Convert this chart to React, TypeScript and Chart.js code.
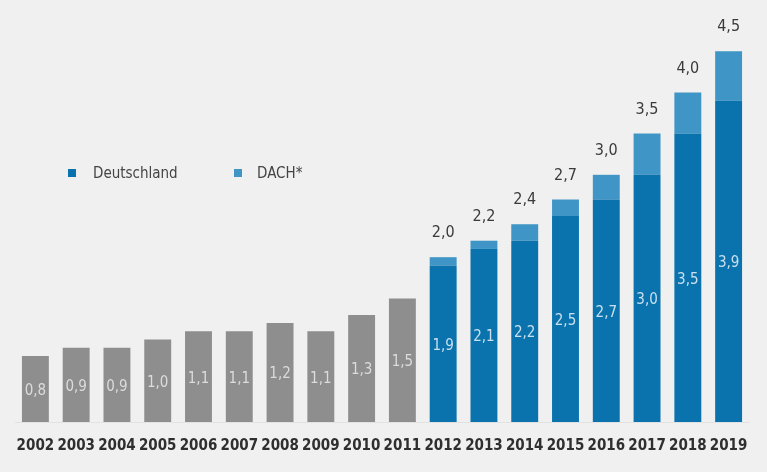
import React, { useEffect, useRef } from "react";
import { Chart, registerables } from "chart.js";

Chart.register(...registerables);

const years = ["2002","2003","2004","2005","2006","2007","2008","2009","2010","2011","2012","2013","2014","2015","2016","2017","2018","2019"];
const earlyValues = [0.8, 0.9, 0.9, 1.0, 1.1, 1.1, 1.2, 1.1, 1.3, 1.5];
const deutschland = [1.9, 2.1, 2.2, 2.5, 2.7, 3.0, 3.5, 3.9];
const dachTotal = [2.0, 2.2, 2.4, 2.7, 3.0, 3.5, 4.0, 4.5];
const legendLabels = ["Deutschland", "DACH*"];

const FONT = "'DejaVu Sans Condensed', 'Roboto', sans-serif";
const GRAY = "#8e8e8e";
const DARK = "#0a72ad";
const LIGHT = "#3e95c6";
const BG = "#f0f0f0";

const fmt = (v: number) => v.toFixed(1).replace(".", ",");

export default function App() {
  const ref = useRef<HTMLCanvasElement | null>(null);

  useEffect(() => {
    document.body.style.margin = "0";
    const nEarly = earlyValues.length;
    const pad = (arr: (number | null)[], before: number) => [...Array(before).fill(null), ...arr];
    const grayData = [...earlyValues, ...Array(deutschland.length).fill(null)];
    const deData = pad(deutschland, nEarly);
    const dachData = pad(dachTotal.map((t, i) => +(t - deutschland[i]).toFixed(2)), nEarly);
    const totals = pad(dachTotal, nEarly);

    const labelPlugin = {
      id: "valueLabels",
      afterDatasetsDraw(chart: any) {
        const ctx = chart.ctx;
        ctx.save();
        ctx.textAlign = "center";
        ctx.textBaseline = "middle";
        ctx.font = `15px ${FONT}`;
        [0, 1].forEach((di) => {
          const meta = chart.getDatasetMeta(di);
          const data = chart.data.datasets[di].data;
          meta.data.forEach((bar: any, i: number) => {
            const v = data[i];
            if (v == null) return;
            ctx.fillStyle = di === 0 ? "#dcdcdc" : "#c8e0ef";
            ctx.fillText(fmt(v), bar.x, (bar.y + bar.base) / 2 + 2);
          });
        });
        const meta2 = chart.getDatasetMeta(2);
        ctx.fillStyle = "#3a3a3a";
        ctx.font = `16px ${FONT}`;
        meta2.data.forEach((bar: any, i: number) => {
          const t = totals[i];
          if (t == null) return;
          ctx.fillText(fmt(t), bar.x, bar.y - 24);
        });
        ctx.restore();
      },
    };

    const chart = new Chart(ref.current!, {
      type: "bar",
      data: {
        labels: years,
        datasets: [
          { label: "early", data: grayData, backgroundColor: GRAY, stack: "s" },
          { label: legendLabels[0], data: deData, backgroundColor: DARK, stack: "s" },
          { label: legendLabels[1], data: dachData, backgroundColor: LIGHT, stack: "s" },
        ],
      },
      options: {
        animation: false,
        responsive: false,
        maintainAspectRatio: false,
        layout: { padding: { left: 15, right: 18, top: 10, bottom: 2 } },
        datasets: { bar: { barPercentage: 0.66, categoryPercentage: 1.0 } },
        plugins: { legend: { display: false }, tooltip: { enabled: false } },
        scales: {
          x: {
            stacked: true,
            grid: { display: false, drawTicks: false },
            border: { display: true, color: "#e2e2e2" },
            ticks: {
              color: "#2f2f2f",
              font: { family: FONT, size: 15, weight: "bold" },
              padding: 15,
              maxRotation: 0,
              autoSkip: false,
            },
          },
          y: {
            stacked: true,
            display: false,
            min: 0,
            max: 5.0,
          },
        },
      },
      plugins: [labelPlugin],
    });
    return () => chart.destroy();
  }, []);

  const sq = (color: string, left: number) => (
    <div style={{ position: "absolute", left, top: 169, width: 8, height: 8, background: color }} />
  );
  const txt = (s: string, left: number) => (
    <div style={{ position: "absolute", left, top: 163, fontFamily: FONT, fontSize: 15, color: "#444", lineHeight: "20px" }}>{s}</div>
  );

  return (
    <div style={{ position: "relative", width: 767, height: 472, background: BG }}>
      <canvas ref={ref} width={767} height={472} style={{ display: "block" }} />
      {sq(DARK, 68)}
      {txt(legendLabels[0], 93)}
      {sq(LIGHT, 234)}
      {txt(legendLabels[1], 257)}
    </div>
  );
}
